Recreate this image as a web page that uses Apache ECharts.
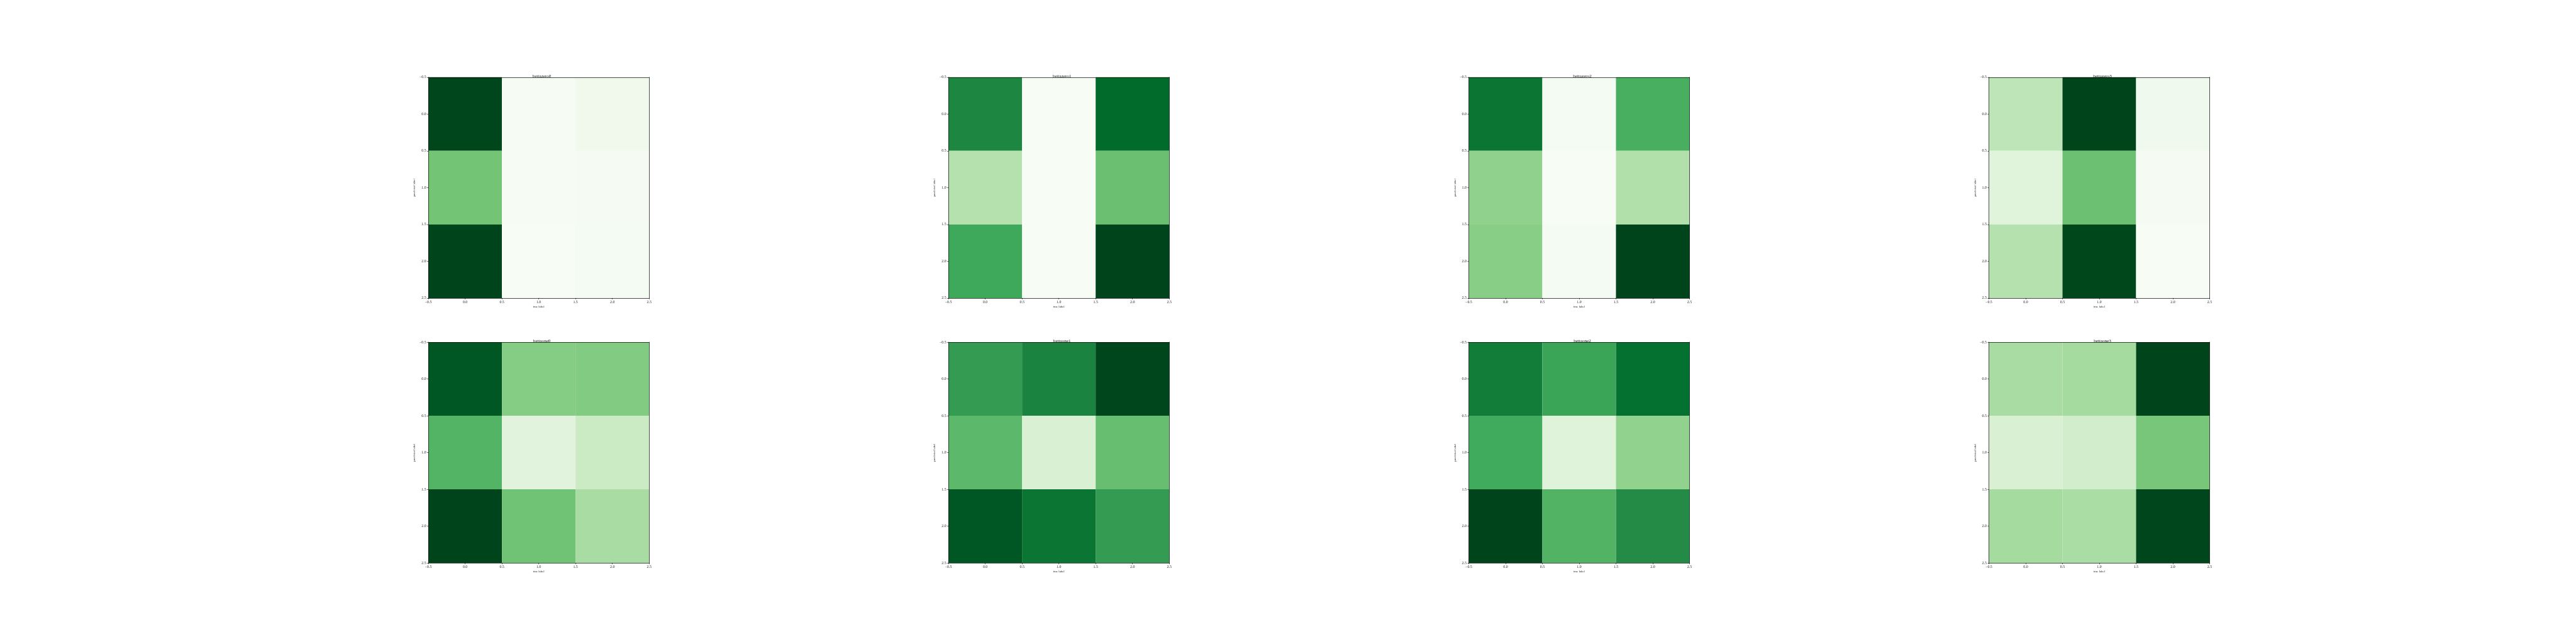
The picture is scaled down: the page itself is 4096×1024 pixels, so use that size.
<!DOCTYPE html>
<html>
<head>
<meta charset="utf-8">
<script src="https://cdn.jsdelivr.net/npm/echarts@6/dist/echarts.min.js"></script>
<style>
html,body{margin:0;padding:0;background:#fff;}
#chart{width:4096px;height:1024px;}
</style>
</head>
<body>
<div id="chart"></div>
<script>
// ---- data (colormap fraction of each cell, rows = predicted label, cols = true label) ----
const titles = ['bettazero0','bettazero1','bettazero2','bettazero3','bettaone0','bettaone1','bettaone2','bettaone3'];
const bettazero0 = [[0.995, 0.005, 0.045],[0.50, 0.008, 0.012],[1.00, 0.00, 0.02]];
const bettazero1 = [[0.77, 0.00, 0.88],[0.31, 0.00, 0.525],[0.637, 0.00, 1.00]];
const bettazero2 = [[0.836, 0.02, 0.608],[0.422, 0.00, 0.32],[0.442, 0.02, 1.00]];
const bettazero3 = [[0.28, 1.00, 0.05],[0.146, 0.52, 0.015],[0.31, 0.99, 0.00]];
const bettaone0  = [[0.942, 0.453, 0.461],[0.581, 0.142, 0.233],[1.00, 0.51, 0.349]];
const bettaone1  = [[0.683, 0.782, 0.995],[0.559, 0.175, 0.532],[0.942, 0.836, 0.683]];
const bettaone2  = [[0.81, 0.654, 0.857],[0.625, 0.15, 0.417],[1.00, 0.583, 0.75]];
const bettaone3  = [[0.349, 0.36, 1.00],[0.175, 0.208, 0.49],[0.362, 0.347, 0.995]];
const matrices = [bettazero0, bettazero1, bettazero2, bettazero3, bettaone0, bettaone1, bettaone2, bettaone3];
const axisMin = -0.5, axisMax = 2.5, axisStep = 0.5;
const xName = 'true label';
const yName = 'predicted label';
const greens = ['#f7fcf5','#e5f5e0','#c7e9c0','#a1d99b','#74c476','#41ab5d','#238b45','#006d2c','#00441b'];

// ---- layout ----
const S = 0.592;
const plotSize = 593 * S;
const lefts = [1150.5, 2547.5, 3945, 5342].map(v => v * S);
const tops = [207.5, 919].map(v => v * S);
const FONT = "'Liberation Serif', 'DejaVu Serif', serif";
const fmt = v => (Math.round(v * 10) / 10).toFixed(1).replace('-', '\u2212');

const grid = [], xAxis = [], yAxis = [], series = [], visualMap = [], title = [];
matrices.forEach((m, i) => {
  const r = Math.floor(i / 4), c = i % 4;
  grid.push({left: lefts[c], top: tops[r], width: plotSize, height: plotSize, containLabel: false});
  const common = {type: 'value', min: axisMin, max: axisMax, interval: axisStep, gridIndex: i, z: 5, splitLine: {show: false}};
  const lineStyle = {color: '#000', width: 0.7};
  // bottom x axis
  xAxis.push(Object.assign({}, common, {
    position: 'bottom',
    axisLine: {show: true, onZero: false, lineStyle},
    axisTick: {show: true, inside: false, length: 2.1, lineStyle: {color: '#000', width: 0.6}},
    axisLabel: {show: true, formatter: fmt, fontFamily: FONT, fontSize: 5.9, color: '#222', margin: 3.2, showMinLabel: true, showMaxLabel: true, hideOverlap: false},
    name: xName, nameLocation: 'middle', nameGap: 11, nameTextStyle: {fontFamily: FONT, fontSize: 4.8, color: '#222'}
  }));
  // top x axis (frame)
  xAxis.push(Object.assign({}, common, {
    position: 'top',
    axisLine: {show: true, onZero: false, lineStyle},
    axisTick: {show: false}, axisLabel: {show: false}
  }));
  // left y axis
  yAxis.push(Object.assign({}, common, {
    position: 'left', inverse: true,
    axisLine: {show: true, onZero: false, lineStyle},
    axisTick: {show: true, inside: false, length: 2.1, lineStyle: {color: '#000', width: 0.6}},
    axisLabel: {show: true, formatter: fmt, fontFamily: FONT, fontSize: 5.9, color: '#222', margin: 3.5, showMinLabel: true, showMaxLabel: true, hideOverlap: false},
    name: yName, nameLocation: 'middle', nameGap: 19.5, nameRotate: 90, nameTextStyle: {fontFamily: FONT, fontSize: 4.8, color: '#222'}
  }));
  // right y axis (frame)
  yAxis.push(Object.assign({}, common, {
    position: 'right', inverse: true,
    axisLine: {show: true, onZero: false, lineStyle},
    axisTick: {show: false}, axisLabel: {show: false}
  }));
  const data = [];
  m.forEach((row, yi) => row.forEach((v, xi) => data.push([xi, yi, v])));
  series.push({
    type: 'custom',
    name: titles[i],
    xAxisIndex: 2 * i, yAxisIndex: 2 * i,
    encode: {x: 0, y: 1},
    data: data,
    renderItem: function (params, api) {
      const x = api.value(0), y = api.value(1);
      const p0 = api.coord([x - 0.5, y - 0.5]);
      const p1 = api.coord([x + 0.5, y + 0.5]);
      return {
        type: 'rect',
        shape: {x: Math.min(p0[0], p1[0]), y: Math.min(p0[1], p1[1]), width: Math.abs(p1[0] - p0[0]), height: Math.abs(p1[1] - p0[1])},
        style: {fill: api.visual('color')}
      };
    }
  });
  visualMap.push({type: 'continuous', show: false, seriesIndex: i, dimension: 2, min: 0, max: 1, inRange: {color: greens}});
  title.push({
    text: titles[i], left: lefts[c] + plotSize / 2, top: tops[r] - 10.5, textAlign: 'center',
    textStyle: {fontFamily: FONT, fontSize: 7.1, fontWeight: 'normal', color: '#111'}
  });
});

const chart = echarts.init(document.getElementById('chart'), null, {renderer: 'canvas'});
chart.setOption({
  animation: false,
  backgroundColor: '#fff',
  title, grid, xAxis, yAxis, visualMap, series
});
</script>
</body>
</html>
